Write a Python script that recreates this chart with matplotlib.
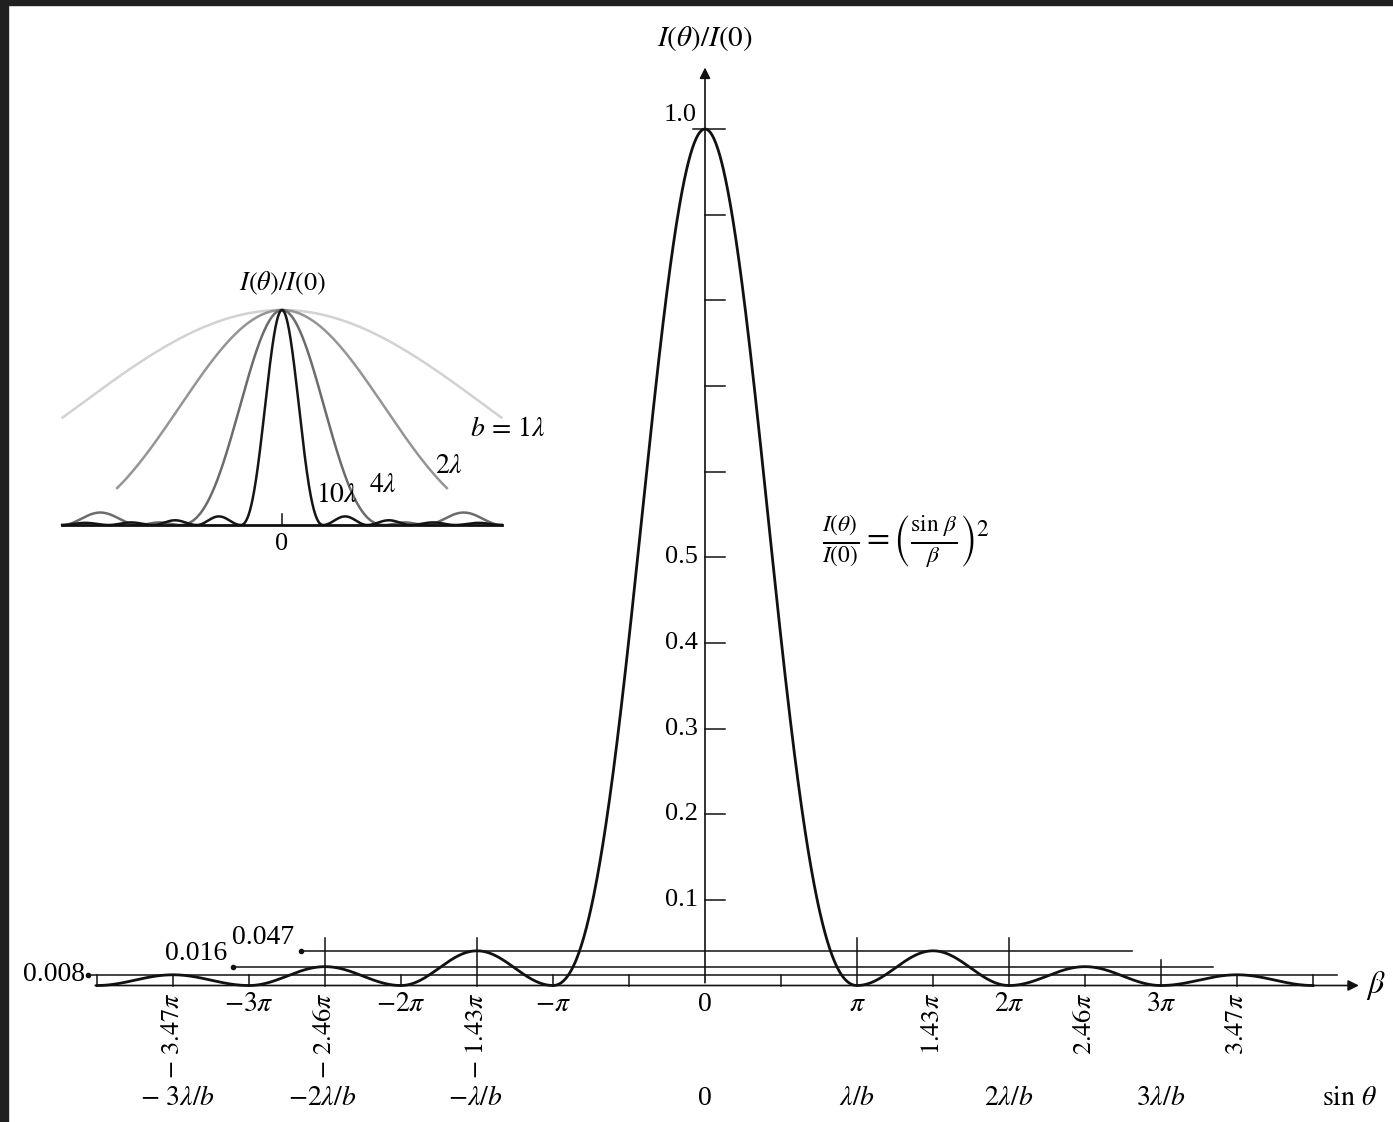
import numpy as np
import matplotlib.pyplot as plt
from matplotlib.patches import Rectangle

plt.rcParams['font.family'] = ['Liberation Serif', 'DejaVu Serif']
plt.rcParams['mathtext.fontset'] = 'stix'

# ---- data (beta given in units of pi) ----
beta_ticks = [-4, -3.5, -3, -2.5, -2, -1.5, -1, -0.5, 0.5, 1, 1.5, 2, 2.5, 3, 3.5, 4]
tall_ticks = [-2.5, -1.5, 1, 2, 3]
tall_tops = [0.055, 0.055, 0.055, 0.055, 0.030]

pi_pos = [-3, -2, -1, 0, 1, 2, 3]
pi_text = [r'$-3\pi$', r'$-2\pi$', r'$-\pi$', '0', r'$\pi$', r'$2\pi$', r'$3\pi$']

peak_pos = [-3.5, -2.5, -1.5, 1.5, 2.5, 3.5]
peak_text = [r'$-\ 3.47\pi$', r'$-\ 2.46\pi$', r'$-\ 1.43\pi$',
             r'$1.43\pi$', r'$2.46\pi$', r'$3.47\pi$']

sin_pos = [-3.47, -2.52, -1.51, 0, 1, 2, 3, 4.24]
sin_text = [r'$-\ 3\lambda/b$', r'$-2\lambda/b$', r'$-\lambda/b$', '0',
            r'$\lambda/b$', r'$2\lambda/b$', r'$3\lambda/b$', r'$\sin\,\theta$']

yticks = [0.1, 0.2, 0.3, 0.4, 0.5, 0.6, 0.7, 0.8, 0.9]
ytick_labels = ['0.1', '0.2', '0.3', '0.4', '0.5', '', '', '', '']

# zeros of the main pattern and heights of the side maxima as drawn
main_zeros = [1, 2, 3, 4]
lobe_labels = ['0.047', '0.016', '0.008']
lobe_drawn = [0.0405, 0.022, 0.0125]
line_start = [-2.66, -3.105, -4.06]
line_end = [2.81, 3.34, 4.155]

# inset: slit widths b (in lambda), zeros (sin theta), side maxima, extent, grey
inset_b = ['1', '2', '4', '10']
inset_zeros = [[1.0], [0.5], [0.206, 0.29, 0.444],
               [0.083, 0.172, 0.26, 0.35, 0.444]]
inset_lobes = [[], [], [0.012, 0.058], [0.04, 0.022, 0.012, 0.01]]
inset_extent = [0.443, 0.333, 0.444, 0.444]
inset_color = ['#d2d2d2', '#959595', '#6c6c6c', '#151515']


def pattern(x, zeros, lobes):
    # sinc^2 main lobe up to the first zero, side maxima between the next zeros
    x = np.abs(np.asarray(x, dtype=float))
    y = np.sinc(x / zeros[0]) ** 2
    y[x >= zeros[0]] = 0.0
    for a, b, h in zip(zeros[:-1], zeros[1:], lobes):
        m = (x >= a) & (x < b)
        y[m] = h * np.sin(np.pi * (x[m] - a) / (b - a)) ** 2
    return y


W, H = 1393, 1122
fig = plt.figure(figsize=(W / 100, H / 100), dpi=100)
ax = fig.add_axes([0, 0, 1, 1])
x0, sx = 705, 152.0
y0, sy = 985.5, 856.5
ax.set_xlim((0 - x0) / sx, (W - x0) / sx)
ax.set_ylim((y0 - H) / sy, y0 / sy)
ax.axis('off')

# main curve
beta = np.linspace(-4, 4, 2001)
ax.plot(beta, pattern(beta, main_zeros, lobe_drawn), color='#111111', lw=2.0, zorder=3)

# axes with arrows
ax.annotate('', xy=(4.32, 0), xytext=(-4.03, 0),
            arrowprops=dict(arrowstyle='-|>', lw=1.2, color='#111111', mutation_scale=16))
ax.annotate('', xy=(0, 1.075), xytext=(0, 0),
            arrowprops=dict(arrowstyle='-|>', lw=1.2, color='#111111', mutation_scale=16))
ax.text(4.35, 0.0, r'$\beta$', fontsize=23, va='center', ha='left')
ax.text(0, 1.106, r'$I(\theta)/I(0)$', fontsize=21, ha='center', va='center')

# x ticks
for b in beta_ticks:
    top = lobe_drawn[2]
    if b in tall_ticks:
        top = tall_tops[tall_ticks.index(b)]
    ax.plot([b, b], [0, top], color='#111111', lw=1.1)

# y ticks
for v, lab in zip(yticks, ytick_labels):
    ax.plot([0, 0.13], [v, v], color='#111111', lw=1.1)
    if lab:
        ax.text(-0.045, v, lab, fontsize=19, ha='right', va='center')
ax.plot([-0.079, 0.13], [1.0, 1.0], color='#111111', lw=1.1)
ax.text(-0.165, 1.016, '1.0', fontsize=19, ha='center', va='center')

# guide lines for secondary maxima
for lab, h, xs, xe in zip(lobe_labels, lobe_drawn, line_start, line_end):
    ax.plot([xs, xe], [h, h], color='#111111', lw=1.1)
    ax.plot(xs, h, 'o', color='#111111', ms=3)
ax.text(line_start[0] - 0.04, lobe_drawn[0] + 0.001, lobe_labels[0],
        fontsize=20, ha='right', va='bottom')
ax.text(line_start[1] - 0.04, lobe_drawn[1] + 0.001, lobe_labels[1],
        fontsize=20, ha='right', va='bottom')
ax.text(line_start[2] - 0.02, lobe_drawn[2], lobe_labels[2],
        fontsize=20, ha='right', va='center')

# tick labels
for p, t in zip(pi_pos, pi_text):
    ax.text(p, -0.0216, t, fontsize=20, ha='center', va='center')
for p, t in zip(peak_pos, peak_text):
    ax.text(p, -0.0085, t, fontsize=19, ha='center', va='top', rotation=90)
for p, t in zip(sin_pos, sin_text):
    ax.text(p, -0.1314, t, fontsize=20, ha='center', va='center')

# formula
ax.text(0.77, 0.518, r'$\frac{I(\theta)}{I(0)}=\left(\frac{\sin\,\beta}{\beta}\right)^2$',
        fontsize=24, ha='left', va='center')

# inset
ins = fig.add_axes([62 / W, 1 - 525 / H, 440 / W, 215 / H])
ins.set_xlim(-0.4444, 0.4444)
ins.set_ylim(0, 1)
ins.axis('off')
for zs, lob, ext, c in zip(inset_zeros, inset_lobes, inset_extent, inset_color):
    s = np.linspace(-ext, ext, 1201)
    ins.plot(s, pattern(s, zs, lob), color=c, lw=1.8, clip_on=False)
ins.plot([-0.4444, 0.4444], [0, 0], color='#111111', lw=2.0, clip_on=False)
ins.plot([0, 0], [0, 0.05], color='#111111', lw=1.1, clip_on=False)
ins.text(0, 1.126, r'$I(\theta)/I(0)$', fontsize=19, ha='center', va='center')
ins.text(0, -0.09, '0', fontsize=19, ha='center', va='center')
ins.text(0.455, 0.442, r'$b\,=\,%s\lambda$' % inset_b[0], fontsize=20, ha='center', va='center')
ins.text(0.337, 0.274, r'$%s\lambda$' % inset_b[1], fontsize=20, ha='center', va='center')
ins.text(0.204, 0.186, r'$%s\lambda$' % inset_b[2], fontsize=20, ha='center', va='center')
ins.text(0.111, 0.135, r'$%s\lambda$' % inset_b[3], fontsize=20, ha='center', va='center')

# dark frame at the top and left edge
fig.patches.append(Rectangle((0, 1 - 5 / H), 1, 5 / H, transform=fig.transFigure,
                             color='#202020', zorder=10))
fig.patches.append(Rectangle((0, 0), 8 / W, 1, transform=fig.transFigure,
                             color='#202020', zorder=10))

fig.savefig('out.png', dpi=100)
